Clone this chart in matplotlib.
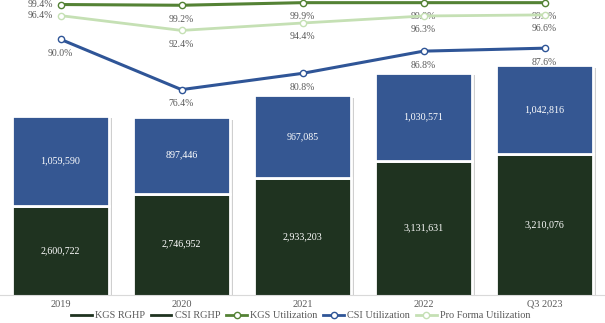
import numpy as np
import matplotlib.pyplot as plt
from matplotlib.lines import Line2D

plt.rcParams['font.family'] = ['Liberation Serif', 'DejaVu Serif']

# dados
anos = ['2019', '2020', '2021', '2022', 'Q3 2023']
kgs_rghp = [2600722, 2746952, 2933203, 3131631, 3210076]
csi_rghp = [1059590, 897446, 967085, 1030571, 1042816]
kgs_util = [99.4, 99.2, 99.9, 99.9, 99.9]
csi_util = [90.0, 76.4, 80.8, 86.8, 87.6]
pro_forma = [96.4, 92.4, 94.4, 96.3, 96.6]

# cores
verde_escuro = '#1F3320'
azul_barra = '#355792'
verde_kgs = '#548235'
azul_csi = '#2F5597'
verde_claro = '#C5E0B4'
cinza = '#595959'

x = np.arange(len(anos))
larg = 0.8
y0 = 1557000

fig = plt.figure(figsize=(6.05, 3.23), dpi=100)
ax = fig.add_axes([0, 28 / 323, 1, 295 / 323])

total = np.array(kgs_rghp) + np.array(csi_rghp)

# sombra das barras
ax.bar(x + 0.028, total - 30000, larg, color='#CFCFCF', zorder=1)
ax.bar(x, kgs_rghp, larg, color=verde_escuro, edgecolor='white', linewidth=2, zorder=2)
ax.bar(x, csi_rghp, larg, bottom=kgs_rghp, color=azul_barra, edgecolor='white',
       linewidth=2, zorder=2)

for i in range(len(anos)):
    ax.text(x[i], (y0 + kgs_rghp[i]) / 2, f'{kgs_rghp[i]:,}', color='white',
            ha='center', va='center', fontsize=7.2, zorder=3)
    ax.text(x[i], kgs_rghp[i] + csi_rghp[i] / 2, f'{csi_rghp[i]:,}', color='white',
            ha='center', va='center', fontsize=7.2, zorder=3)

ax.set_xlim(-0.5, 4.5)
ax.set_ylim(y0, 5016000)
ax.set_yticks([])
ax.set_xticks(x)
ax.set_xticklabels(anos, fontsize=7.4, color=cinza)
ax.tick_params(axis='x', length=0, pad=3.5)
for s in ['top', 'left', 'right']:
    ax.spines[s].set_visible(False)
ax.spines['bottom'].set_color('#D9D9D9')

# eixo secundario - utilizacao
ax2 = ax.twinx()
ax2.set_ylim(20.9, 100.62)
ax2.axis('off')

ax2.plot(x, pro_forma, color=verde_claro, lw=2, marker='o', ms=4.5,
         mfc='white', mec=verde_claro, mew=1, zorder=4)
ax2.plot(x, csi_util, color=azul_csi, lw=2.2, marker='o', ms=4.5,
         mfc='white', mec=azul_csi, mew=1, zorder=5)
ax2.plot(x, kgs_util, color=verde_kgs, lw=2.2, marker='o', ms=4.5,
         mfc='white', mec=verde_kgs, mew=1, zorder=6, clip_on=False)

for serie in [kgs_util, pro_forma, csi_util]:
    for i, v in enumerate(serie):
        if i == 0 and serie is not csi_util:
            ax2.annotate(f'{v:.1f}%', (x[i], v), xytext=(-5.5, 0), textcoords='offset points',
                         ha='right', va='center', fontsize=7, color=cinza)
        else:
            ax2.annotate(f'{v:.1f}%', (x[i], v), xytext=(0, -10), textcoords='offset points',
                         ha='center', va='center', fontsize=7, color=cinza)

# legenda
handles = [
    Line2D([], [], color=verde_escuro, lw=2),
    Line2D([], [], color=verde_escuro, lw=2),
    Line2D([], [], color=verde_kgs, lw=2, marker='o', ms=4.5, mfc='white', mew=1),
    Line2D([], [], color=azul_csi, lw=2, marker='o', ms=4.5, mfc='white', mew=1),
    Line2D([], [], color=verde_claro, lw=2, marker='o', ms=4.5, mfc='white', mew=1),
]
nomes = ['KGS RGHP', 'CSI RGHP', 'KGS Utilization', 'CSI Utilization', 'Pro Forma Utilization']
leg = fig.legend(handles, nomes, loc='center', bbox_to_anchor=(0.497, 7.3 / 323),
                 ncol=5, frameon=False, fontsize=7.4, handlelength=2.0, handletextpad=0.3,
                 columnspacing=0.6, borderpad=0)
for t in leg.get_texts():
    t.set_color(cinza)

plt.savefig('out.png', dpi=100)
